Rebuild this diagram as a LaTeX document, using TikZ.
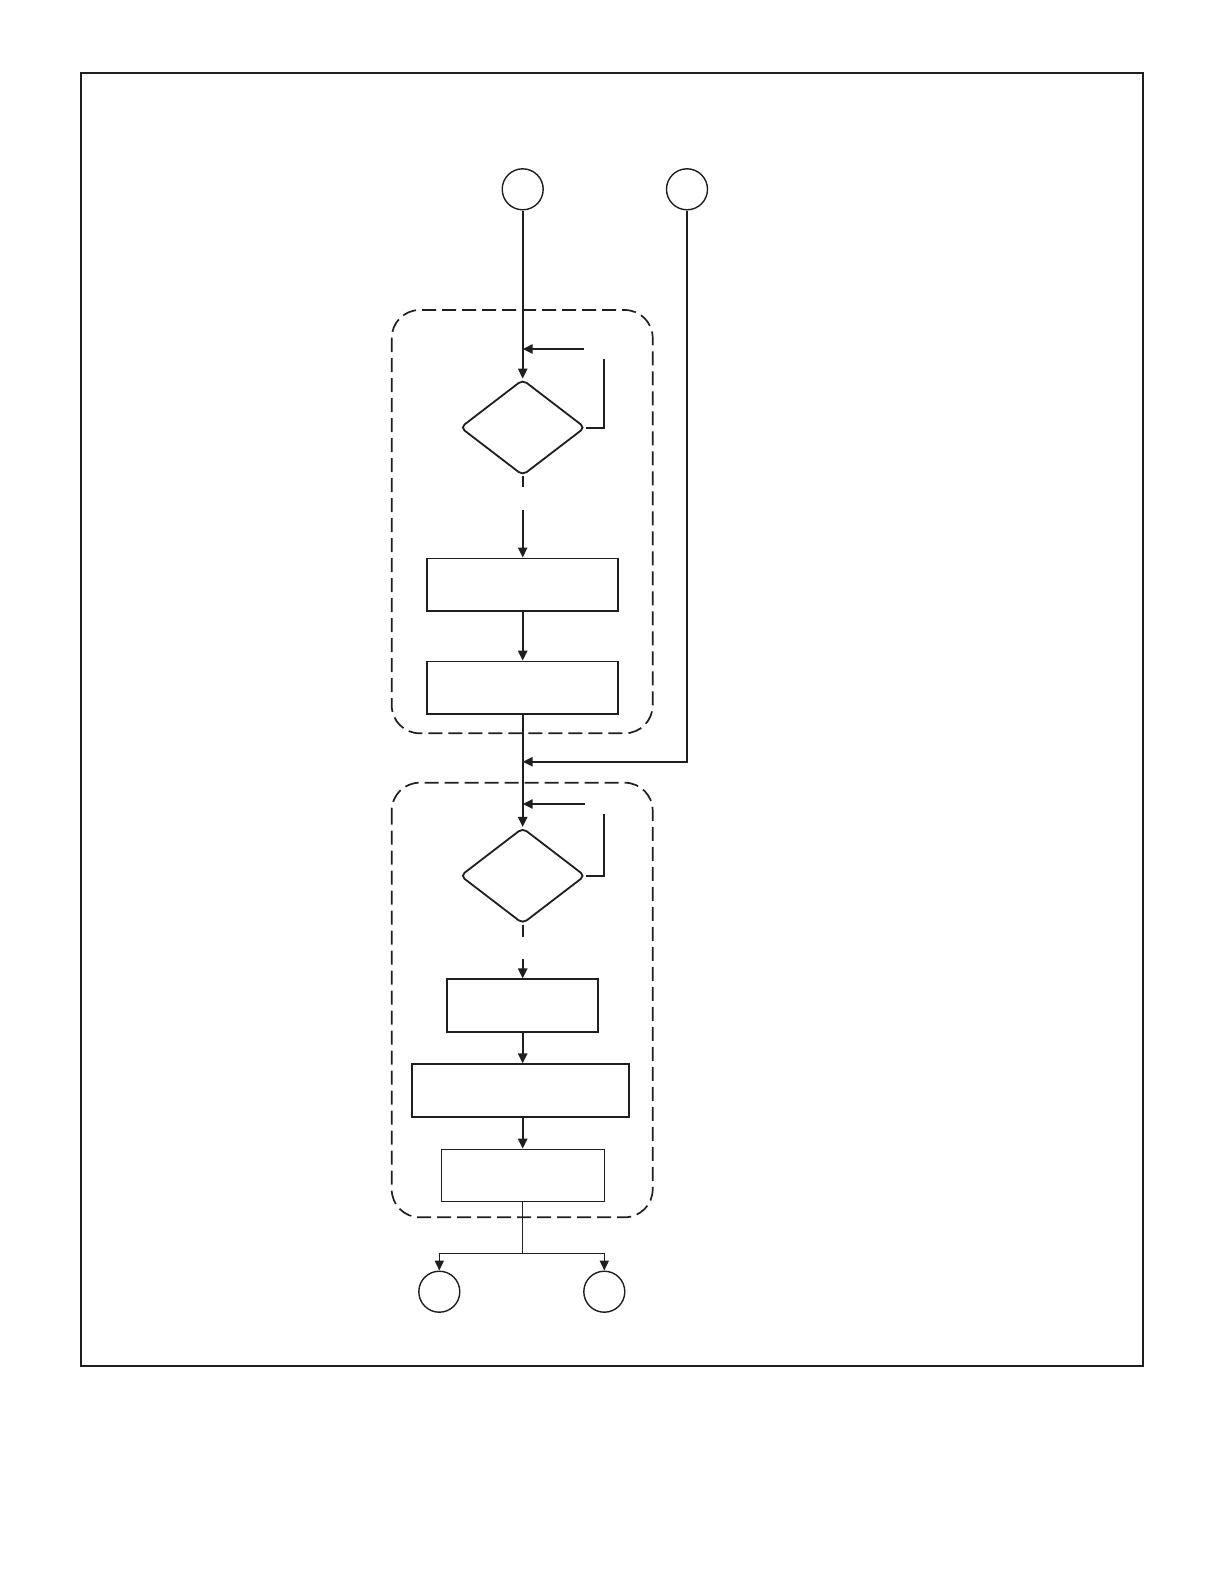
\documentclass[tikz,border=0pt]{standalone}
\usetikzlibrary{arrows.meta,shapes.geometric}
\begin{document}
\begin{tikzpicture}[x=0.5pt,y=-0.5pt,
  ink/.style={draw=black!88},
  frame/.style={ink,line width=1pt},
  conn/.style={ink,line width=1pt},
  thin conn/.style={ink,line width=0.6pt},
  arr/.style={conn,-{Triangle[length=5pt,width=4.6pt]}},
  thin arr/.style={thin conn,-{Triangle[length=5pt,width=4.6pt]}},
  group/.style={ink,line width=0.85pt,dash pattern=on 7pt off 3pt,rounded corners=14pt},
  term/.style={circle,ink,line width=0.7pt,minimum size=20.5pt,inner sep=0pt},
  dec/.style={diamond,ink,line width=0.9pt,minimum width=62.5pt,minimum height=48pt,aspect=1.3,inner sep=0pt,rounded corners=2.5pt},
  stepbox/.style={rectangle,ink,line width=0.9pt,minimum height=26.2pt,inner sep=0pt},
]
\useasboundingbox (0,0) rectangle (1224,1584);
\draw[frame] (81,73) rectangle (1143,1366);

% groups
\draw[group] (391.7,310) rectangle (652.7,733.3);
\draw[group] (391.7,782.7) rectangle (652.7,1217.3);

% nodes
\node[term] (a) at (522.7,189.3) {};
\node[term] (b) at (687,189.3) {};
\node[dec] (d1) at (522.7,427.5) {};
\node[stepbox,minimum width=95.8pt] (s1) at (522.5,584.6) {};
\node[stepbox,minimum width=95.8pt] (s2) at (522.5,687.7) {};
\node[dec] (d2) at (522.7,875.8) {};
\node[stepbox,minimum width=75.5pt] (s3) at (522.8,1005.5) {};
\node[stepbox,minimum width=108.8pt] (s4) at (520.5,1090.5) {};
\node[stepbox,minimum width=81.3pt,line width=0.7pt] (s5) at (523,1175.5) {};
\node[term] (e1) at (439.3,1291.7) {};
\node[term] (e2) at (604.3,1291.7) {};

% coordinates
\coordinate (l1s) at (584,349);
\coordinate (l1v) at (603.5,359);
\coordinate (g1a) at (522.7,487.3);
\coordinate (g1b) at (522.7,510);
\coordinate (bj) at (687,761.7);
\coordinate (l2s) at (585,804);
\coordinate (l2v) at (604,814);
\coordinate (g2a) at (522.7,937.3);
\coordinate (g2b) at (522.7,959.3);
\coordinate (split) at (522.7,1253.3);

% connectors
\draw[arr] (a) -- (d1.north);
\draw[arr] (l1s) -- (l1s -| a);
\draw[conn] (d1.east) -| (l1v);
\draw[conn] (d1.south) -- (g1a);
\draw[arr] (g1b) -- (s1.north -| a);
\draw[arr] (s1.south -| a) -- (s2.north -| a);
\draw[arr] (s2.south -| a) -- (d2.north);
\draw[arr] (b) -- (bj) -- (bj -| a);
\draw[arr] (l2s) -- (l2s -| a);
\draw[conn] (d2.east) -| (l2v);
\draw[conn] (d2.south) -- (g2a);
\draw[arr] (g2b) -- (s3.north -| a);
\draw[arr] (s3.south -| a) -- (s4.north -| a);
\draw[arr] (s4.south -| a) -- (s5.north -| a);
\draw[thin conn] (s5.south -| a) -- (split);
\draw[thin arr] (split) -| (e1.north);
\draw[thin arr] (split) -| (e2.north);
\end{tikzpicture}
\end{document}
